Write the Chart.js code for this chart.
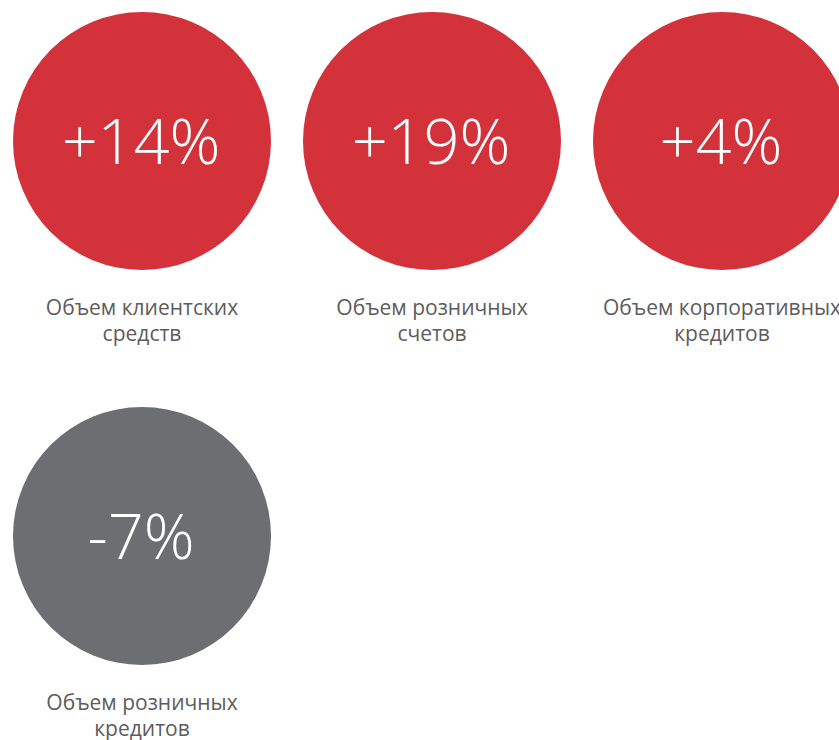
<!DOCTYPE html>
<html>
<head>
<meta charset="utf-8">
<script src="https://cdn.jsdelivr.net/npm/chart.js@4"></script>
<style>
    html, body { margin: 0; padding: 0; background: #fff; overflow: hidden; }
    body { width: 839px; height: 740px; position: relative; font-family: 'Open Sans', sans-serif; }
    .cell { position: absolute; width: 290px; height: 395px; }
    .cell canvas { display: block; }
    .caption {
        position: absolute; left: -20px; top: 294px; width: 330px;
        text-align: center; font-size: 21px; line-height: 26px; color: #5c5c5c;
        white-space: nowrap;
    }
</style>
</head>
<body>
<script>
const categories = [
    ['Объем клиентских', 'средств'],
    ['Объем розничных', 'счетов'],
    ['Объем корпоративных', 'кредитов'],
    ['Объем розничных', 'кредитов']
];
const changes = [14, 19, 4, -7];
const valueLabels = ['+14%', '+19%', '+4%', '-7%'];

const RED = '#d3323a';
const GREY = '#6d6e71';

// draws the big percentage in the middle of the circle
const centerText = {
    id: 'centerText',
    afterDraw(chart, args, opts) {
        const arc = chart.getDatasetMeta(0).data[0];
        if (!arc) return;
        const ctx = chart.ctx;
        ctx.save();
        ctx.fillStyle = '#fff';
        ctx.font = '300 63px "Open Sans"';
        ctx.textAlign = 'center';
        ctx.textBaseline = 'alphabetic';
        ctx.fillText(opts.text, arc.x - 1, arc.y + 23);
        ctx.restore();
    }
};

document.addEventListener('DOMContentLoaded', () => {
    changes.forEach((val, i) => {
        const col = i % 3;
        const row = Math.floor(i / 3);
        const cell = document.createElement('div');
        cell.className = 'cell';
        cell.style.left = (-3 + col * 290) + 'px';
        cell.style.top = (row * 395) + 'px';

        const canvas = document.createElement('canvas');
        canvas.width = 290;
        canvas.height = 282;
        cell.appendChild(canvas);

        const cap = document.createElement('div');
        cap.className = 'caption';
        cap.innerHTML = categories[i].join('<br>');
        cell.appendChild(cap);
        document.body.appendChild(cell);

        new Chart(canvas.getContext('2d'), {
            type: 'pie',
            data: {
                labels: [categories[i].join(' ')],
                datasets: [{
                    data: [Math.abs(val)],
                    backgroundColor: val >= 0 ? RED : GREY,
                    borderWidth: 0
                }]
            },
            options: {
                responsive: false,
                animation: false,
                layout: { padding: { top: 12, bottom: 12, left: 16, right: 16 } },
                plugins: {
                    legend: { display: false },
                    tooltip: { enabled: false },
                    centerText: { text: valueLabels[i] }
                }
            },
            plugins: [centerText]
        });
    });
});
</script>
</body>
</html>
